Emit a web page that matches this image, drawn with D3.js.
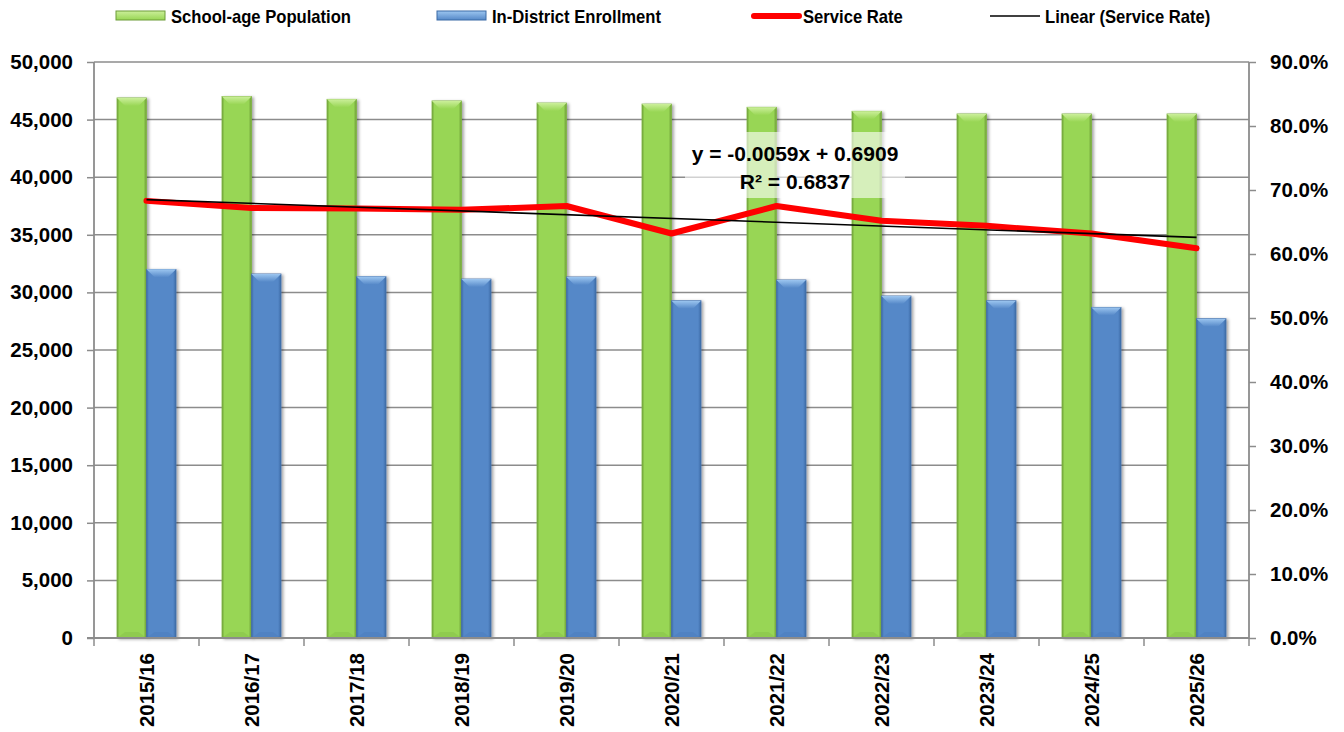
<!DOCTYPE html>
<html>
<head>
<meta charset="utf-8">
<script src="https://cdn.jsdelivr.net/npm/d3@7"></script>
<style>
  html, body { margin: 0; padding: 0; background: #fff; }
  svg { display: block; }
</style>
</head>
<body>
<svg id="chart" width="1344" height="732"></svg>
<script>
// School years on the category axis
const years = ["2015/16", "2016/17", "2017/18", "2018/19", "2019/20", "2020/21",
               "2021/22", "2022/23", "2023/24", "2024/25", "2025/26"];
// School-age population (left axis)
const population = [46880, 47000, 46760, 46620, 46440, 46350, 46070, 45720, 45490, 45490, 45490];
// In-district enrollment (left axis)
const enrollment = [32000, 31600, 31370, 31160, 31340, 29280, 31080, 29690, 29280, 28700, 27720];
// Service rate (right axis)
const serviceRate = [0.683, 0.672, 0.671, 0.669, 0.675, 0.632, 0.675, 0.652, 0.644, 0.632, 0.609];
// Linear trend of the service rate: y = slope * x + intercept, x = 1..n
const trendSlope = -0.0059;
const trendIntercept = 0.6909;
const trendR2 = 0.6837;
// Axis ticks
const leftTicks = [0, 5000, 10000, 15000, 20000, 25000, 30000, 35000, 40000, 45000, 50000];
const rightTicks = [0, 0.1, 0.2, 0.3, 0.4, 0.5, 0.6, 0.7, 0.8, 0.9];
// Legend entries
const legendLabels = ["School-age Population", "In-District Enrollment", "Service Rate", "Linear (Service Rate)"];

const svg = d3.select("#chart");
const M = { left: 94, right: 1249, top: 62, bottom: 638 };
const FONT = "'Liberation Sans', Arial, sans-serif";

const x = d3.scaleBand().domain(years).range([M.left, M.right]).paddingInner(0).paddingOuter(0);
const groupW = x.bandwidth() * 0.562;
const xs = d3.scaleBand().domain(["pop", "enr"])
  .range([(x.bandwidth() - groupW) / 2, (x.bandwidth() + groupW) / 2]).padding(0);
const yL = d3.scaleLinear().domain([0, 50000]).range([M.bottom, M.top]);
const yR = d3.scaleLinear().domain([0, 0.9]).range([M.bottom, M.top]);

const defs = svg.append("defs");
const shadow = defs.append("filter").attr("id", "barShadow")
  .attr("x", "-30%").attr("y", "-10%").attr("width", "160%").attr("height", "120%");
shadow.append("feDropShadow").attr("dx", 2).attr("dy", 1).attr("stdDeviation", 1.6)
  .attr("flood-color", "#000").attr("flood-opacity", 0.35);

// Colour sets for the bevelled bars
const palettes = {
  pop: { base: "#98d654", dark: "#6c9c38", light: "#cbef9a", edge: "#7fb443" },
  enr: { base: "#5588c8", dark: "#3b6aa6", light: "#9cc6f0", edge: "#466fa8" }
};
Object.entries(palettes).forEach(([k, p]) => {
  const g = defs.append("linearGradient").attr("id", "side-" + k)
    .attr("x1", "0").attr("x2", "1").attr("y1", "0").attr("y2", "0");
  g.append("stop").attr("offset", "0").attr("stop-color", p.dark);
  g.append("stop").attr("offset", "0.08").attr("stop-color", p.base);
  g.append("stop").attr("offset", "0.9").attr("stop-color", p.base);
  g.append("stop").attr("offset", "1").attr("stop-color", p.dark);
  const t = defs.append("linearGradient").attr("id", "top-" + k)
    .attr("x1", "0").attr("x2", "0").attr("y1", "0").attr("y2", "1");
  t.append("stop").attr("offset", "0").attr("stop-color", p.light);
  t.append("stop").attr("offset", "1").attr("stop-color", p.base);
});

// Gridlines
svg.append("g").selectAll("line").data(leftTicks.filter(d => d > 0)).join("line")
  .attr("x1", M.left).attr("x2", M.right)
  .attr("y1", d => yL(d)).attr("y2", d => yL(d))
  .attr("stroke", "#8c8c8c").attr("stroke-width", 1.5);

// Bars
const series = [{ key: "pop", values: population }, { key: "enr", values: enrollment }];
const bevel = 8;
series.forEach(s => {
  const p = palettes[s.key];
  const g = svg.append("g").attr("class", "bars-" + s.key);
  const bw = xs.bandwidth();
  const bars = g.selectAll("g").data(years.map((yr, i) => ({ yr, v: s.values[i] }))).join("g")
    .attr("transform", d => `translate(${x(d.yr) + xs(s.key)},0)`);
  bars.append("rect")
    .attr("x", 0).attr("y", d => yL(d.v))
    .attr("width", bw).attr("height", d => yL(0) - yL(d.v))
    .attr("fill", `url(#side-${s.key})`)
    .attr("stroke", p.edge).attr("stroke-width", 0.8)
    .attr("filter", "url(#barShadow)");
  bars.append("path")
    .attr("d", d => {
      const t = yL(d.v);
      return `M0,${t}L${bw},${t}L${bw - bevel},${t + bevel}L${bevel},${t + bevel}Z`;
    })
    .attr("fill", `url(#top-${s.key})`);
  bars.append("path")
    .attr("d", d => {
      const b = yL(0);
      return `M${bevel},${b - 6}L${bw - bevel},${b - 6}L${bw},${b}L0,${b}Z`;
    })
    .attr("fill", p.dark).attr("opacity", 0.18);
});

// Axes
const axisColor = "#8c8c8c";
const leftAxis = svg.append("g").attr("transform", `translate(${M.left},0)`)
  .call(d3.axisLeft(yL).tickValues(leftTicks).tickSize(7).tickPadding(14).tickFormat(d3.format(",")));
const rightAxis = svg.append("g").attr("transform", `translate(${M.right},0)`)
  .call(d3.axisRight(yR).tickValues(rightTicks).tickSize(7).tickPadding(14).tickFormat(d3.format(".1%")));
const bottomAxis = svg.append("g").attr("transform", `translate(0,${M.bottom})`)
  .call(d3.axisBottom(x).tickSize(0).tickPadding(10));

[leftAxis, rightAxis, bottomAxis].forEach(a => {
  a.select(".domain").attr("stroke", axisColor).attr("stroke-width", 1.8);
  a.selectAll(".tick line").attr("stroke", axisColor).attr("stroke-width", 1.5);
  a.selectAll("text").attr("font-family", FONT).attr("font-weight", "bold")
    .attr("font-size", 20.5).attr("fill", "#000");
});
leftAxis.select(".domain").attr("d", `M0,${M.bottom}V${M.top}`);
rightAxis.select(".domain").attr("d", `M0,${M.bottom}V${M.top}`);
bottomAxis.select(".domain").attr("d", `M${M.left - 7},0H${M.right}`);
bottomAxis.selectAll(".tick text")
  .attr("transform", "rotate(-90)")
  .attr("text-anchor", "end").attr("dy", "0.36em").attr("y", 0).attr("x", -15);
// Category boundary ticks
svg.append("g").selectAll("line").data(years.concat(["end"])).join("line")
  .attr("x1", (d, i) => M.left + i * x.step()).attr("x2", (d, i) => M.left + i * x.step())
  .attr("y1", M.bottom).attr("y2", M.bottom + 8)
  .attr("stroke", axisColor).attr("stroke-width", 1.5);

// Service rate line
const cx = d => x(d) + x.bandwidth() / 2;
svg.append("path")
  .datum(serviceRate)
  .attr("d", d3.line().x((d, i) => cx(years[i])).y(d => yR(d)))
  .attr("fill", "none").attr("stroke", "#ff0000").attr("stroke-width", 6)
  .attr("stroke-linejoin", "round").attr("stroke-linecap", "round");

// Linear trend line
const trend = years.map((yr, i) => ({ yr, v: trendSlope * (i + 1) + trendIntercept }));
svg.append("path")
  .datum([trend[0], trend[trend.length - 1]])
  .attr("d", d3.line().x(d => cx(d.yr)).y(d => yR(d.v)))
  .attr("fill", "none").attr("stroke", "#000").attr("stroke-width", 1.6);

// Trend equation label
const eqX = 795;
svg.append("rect").attr("x", 685).attr("y", 132).attr("width", 220).attr("height", 66)
  .attr("fill", "#fff").attr("opacity", 0.6);
const fmt4 = v => d3.format(".4f")(v).replace("\u2212", "-");
const eqText = svg.append("text").attr("font-family", FONT).attr("font-weight", "bold")
  .attr("font-size", 21).attr("text-anchor", "middle").attr("fill", "#000");
eqText.append("tspan").attr("x", eqX).attr("y", 161)
  .text(`y = ${fmt4(trendSlope)}x + ${fmt4(trendIntercept)}`);
eqText.append("tspan").attr("x", eqX).attr("y", 189)
  .text(`R² = ${fmt4(trendR2)}`);

// Legend (condensed bold type)
const legend = svg.append("g").attr("font-family", FONT).attr("font-weight", "bold").attr("font-size", 19);
const legendX = [116, 437, 751, 990];
legendLabels.forEach((lab, i) => {
  const g = legend.append("g").attr("transform", `translate(${legendX[i]},0)`);
  if (i < 2) {
    const k = i === 0 ? "pop" : "enr";
    g.append("rect").attr("x", 0).attr("y", 11).attr("width", 49).attr("height", 9)
      .attr("fill", `url(#top-${k})`).attr("stroke", palettes[k].dark).attr("stroke-width", 1);
  } else if (i === 2) {
    g.append("line").attr("x1", 3).attr("x2", 48).attr("y1", 16).attr("y2", 16)
      .attr("stroke", "#ff0000").attr("stroke-width", 6).attr("stroke-linecap", "round");
  } else {
    g.append("line").attr("x1", 0).attr("x2", 50).attr("y1", 16).attr("y2", 16)
      .attr("stroke", "#000").attr("stroke-width", 1.6);
  }
  g.append("text")
    .attr("transform", `translate(${i === 2 ? 52 : 55},23) scale(0.875,1)`)
    .attr("fill", "#000").text(lab);
});
</script>
</body>
</html>
